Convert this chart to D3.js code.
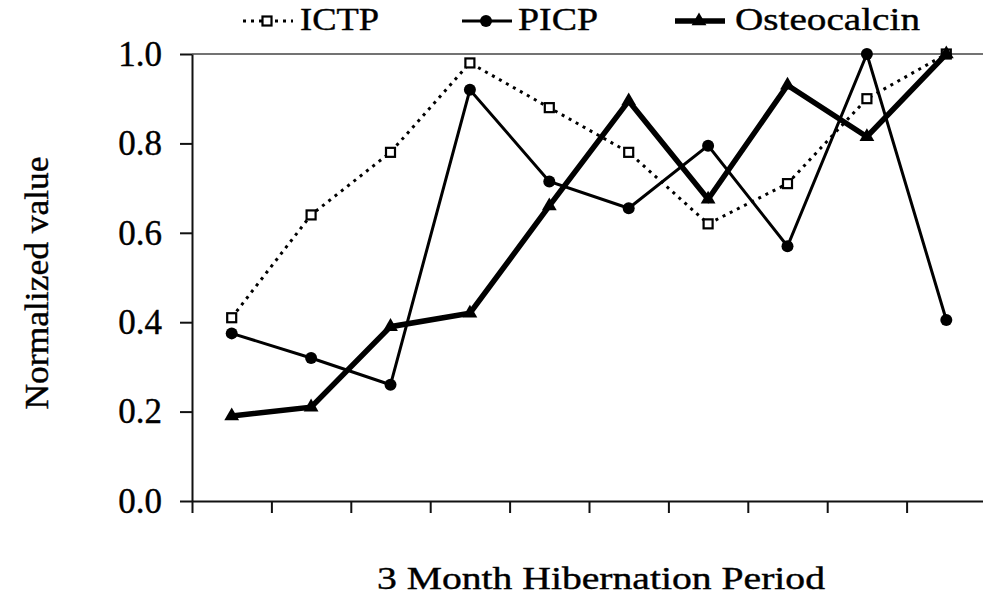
<!DOCTYPE html>
<html>
<head>
<meta charset="utf-8">
<script src="https://cdn.jsdelivr.net/npm/d3@7"></script>
<style>
  body { margin: 0; background: #fff; }
  text { font-family: "Liberation Serif", "Times New Roman", serif; fill: #000; stroke: #000; stroke-width: 0.4px; }
</style>
</head>
<body>
<script>
// Datos (lectura de la imagen)
var periods = [1, 2, 3, 4, 5, 6, 7, 8, 9, 10];
var ictp = [0.41, 0.64, 0.78, 0.98, 0.88, 0.78, 0.62, 0.71, 0.90, 1.00];
var picp = [0.375, 0.32, 0.26, 0.92, 0.715, 0.655, 0.795, 0.57, 1.00, 0.405];
var osteocalcin = [0.19, 0.21, 0.39, 0.42, 0.66, 0.895, 0.675, 0.93, 0.815, 1.00];
var yTicks = [0.0, 0.2, 0.4, 0.6, 0.8, 1.0];
var seriesNames = ["ICTP", "PICP", "Osteocalcin"];

var vis = {
  w : 983,
  h : 596,
  left : 192,
  right : 986,
  top : 54,
  bottom : 501
};

var series = [
  { name : seriesNames[0], values : ictp, width : 3, dash : "3,5", marker : "square",
    lx : 243, tx : 300, tlen : 79 },
  { name : seriesNames[1], values : picp, width : 3, dash : null, marker : "circle",
    lx : 462, tx : 518, tlen : 80 },
  { name : seriesNames[2], values : osteocalcin, width : 5.5, dash : null, marker : "triangle",
    lx : 675, tx : 735, tlen : 185 }
];

//Creacion del SVG
var svg = d3.select("body")
        .append("svg")
        .attr("width", vis.w)
        .attr("height", vis.h);

// Escalas
var x = d3.scaleLinear()
        .domain([0, periods.length])
        .range([vis.left, vis.right]);

var y = d3.scaleLinear()
        .domain([0, 1])
        .range([vis.bottom, vis.top]);

function px(i) { return x(i + 0.5); }

// Linea de 1.0
svg.append("line")
    .attr("x1", vis.left)
    .attr("x2", vis.w)
    .attr("y1", y(1))
    .attr("y2", y(1))
    .attr("stroke", "#444")
    .attr("stroke-width", 1.5);

// Ejes
var yAxis = svg.append("g")
    .attr("transform", "translate(" + vis.left + ",0)")
    .call(d3.axisLeft(y)
        .tickValues(yTicks)
        .tickSize(12)
        .tickSizeOuter(0)
        .tickPadding(18)
        .tickFormat(d3.format(".1f")));

yAxis.selectAll("text")
    .attr("font-size", "35px")
    .attr("font-family", "Liberation Serif, serif");

var xAxis = svg.append("g")
    .attr("transform", "translate(0," + vis.bottom + ")")
    .call(d3.axisBottom(x)
        .tickValues(d3.range(0, periods.length + 1))
        .tickSize(12)
        .tickSizeOuter(0)
        .tickFormat(""));

svg.selectAll(".domain, .tick line")
    .attr("stroke", "#111")
    .attr("stroke-width", 2);

// Lineas de series
var line = d3.line()
    .x(function(d, i) { return px(i); })
    .y(function(d) { return y(d); });

function marker(g, type, cx, cy) {
  if (type === "circle") {
    g.append("circle")
      .attr("cx", cx).attr("cy", cy).attr("r", 6)
      .attr("fill", "#000");
  } else if (type === "square") {
    g.append("rect")
      .attr("x", cx - 4.5).attr("y", cy - 4.5)
      .attr("width", 9).attr("height", 9)
      .attr("fill", "#fff").attr("stroke", "#000").attr("stroke-width", 2.2);
  } else {
    g.append("path")
      .attr("d", d3.symbol().type(d3.symbolTriangle).size(95)())
      .attr("transform", "translate(" + cx + "," + cy + ")")
      .attr("fill", "#000");
  }
}

series.forEach(function(s) {
  var g = svg.append("g");
  g.append("path")
    .datum(s.values)
    .attr("d", line)
    .attr("fill", "none")
    .attr("stroke", "#000")
    .attr("stroke-width", s.width)
    .attr("stroke-linejoin", "miter")
    .attr("stroke-dasharray", s.dash);
  s.values.forEach(function(v, i) {
    marker(g, s.marker, px(i), y(v));
  });
});

// Leyenda
var ly = 21;
series.forEach(function(s) {
  var g = svg.append("g");
  g.append("line")
    .attr("x1", s.lx).attr("x2", s.lx + 50)
    .attr("y1", ly).attr("y2", ly)
    .attr("stroke", "#000")
    .attr("stroke-width", s.width)
    .attr("stroke-dasharray", s.dash);
  marker(g, s.marker, s.lx + 24, ly);
  g.append("text")
    .attr("x", s.tx)
    .attr("y", 30)
    .attr("font-size", "32px")
    .attr("textLength", s.tlen)
    .attr("lengthAdjust", "spacingAndGlyphs")
    .text(s.name);
});

// Titulos de ejes
svg.append("text")
    .attr("x", 601)
    .attr("y", 589)
    .attr("text-anchor", "middle")
    .attr("font-size", "31px")
    .attr("textLength", 448)
    .attr("lengthAdjust", "spacingAndGlyphs")
    .text("3 Month Hibernation Period");

svg.append("text")
    .attr("transform", "translate(48,283) rotate(-90)")
    .attr("text-anchor", "middle")
    .attr("font-size", "33px")
    .attr("textLength", 253)
    .attr("lengthAdjust", "spacingAndGlyphs")
    .text("Normalized value");
</script>
</body>
</html>
